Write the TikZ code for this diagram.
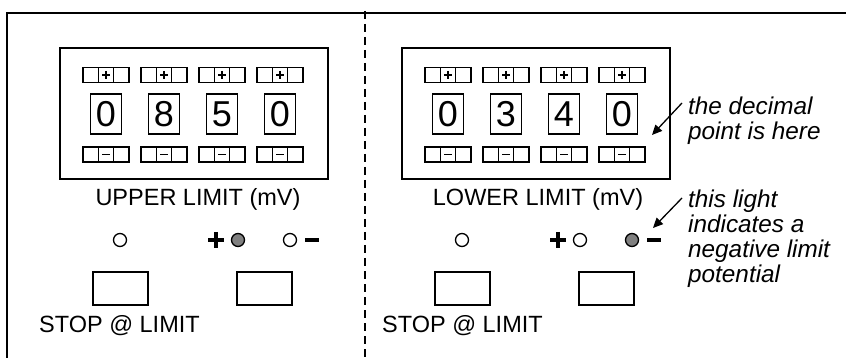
\documentclass[tikz,border=0pt]{standalone}
\usepackage{fontspec}
\setmainfont{Liberation Sans}
\usetikzlibrary{arrows.meta}
\begin{document}
\begin{tikzpicture}[x=1pt,y=-1pt,
  frame/.style={line width=2pt},
  divider/.style={line width=1.5pt,dash pattern=on 8pt off 5pt},
  panel/.style={draw,line width=1.6pt,minimum width=268pt,minimum height=131pt,inner sep=0pt},
  digit/.style={draw,line width=1.5pt,minimum width=31pt,minimum height=40pt,inner sep=0pt,font=\fontsize{36}{36}\selectfont},
  cellline/.style={line width=1.4pt},
  signline/.style={line width=1.7pt},
  lab/.style={inner sep=0pt,font=\fontsize{23.5}{25}\selectfont},
  note/.style={inner sep=0pt,align=left,font=\fontsize{24.3}{25}\selectfont\itshape},
  light/.style={circle,draw,line width=1.3pt,minimum size=13pt,inner sep=0pt},
  onlight/.style={light,fill=black!50},
  btn/.style={draw,line width=1.6pt,minimum width=55pt,minimum height=33pt,inner sep=0pt},
  bigsign/.style={line width=3.8pt},
  ptr/.style={line width=1.3pt,-{Triangle[length=10pt,width=9pt]}},
  plusgroup/.pic={
    \draw[cellline] (-23,-7.5) rectangle (23,7.5);
    \draw[cellline] (-7.7,-7.5) -- (-7.7,7.5) (7.7,-7.5) -- (7.7,7.5);
    \draw[signline] (-4,0) -- (4,0) (0,-4) -- (0,4);
  },
  minusgroup/.pic={
    \draw[cellline] (-23,-7.5) rectangle (23,7.5);
    \draw[cellline] (-7.7,-7.5) -- (-7.7,7.5) (7.7,-7.5) -- (7.7,7.5);
    \draw[signline] (-4,0) -- (4,0);
  }
]
\useasboundingbox (0,0) rectangle (846,358);

% outer frame and divider
\coordinate (fbl) at (6.5,358);
\coordinate (ftl) at (6.5,13);
\coordinate (ftr) at (846,13);
\draw[frame] (fbl) -- (ftl) -- (ftr);
\coordinate (dtop) at (365,11);
\coordinate (dbot) at (365,358);
\draw[divider] (dtop) -- (dbot);

% ---------- left panel ----------
\node[panel] (P1) at (194,113.5) {};
\foreach \x/\d [count=\i] in {106/0,164/8,222/5,280/0}{
  \pic (Lp\i) at (\x,75) {plusgroup};
  \node[digit] (Ld\i) at (\x,114) {\d};
  \pic (Lm\i) at (\x,154.5) {minusgroup};
}
\node[lab,anchor=base] (UL) at (198,206) {UPPER LIMIT (mV)};
\node[light] (Ll1) at (120,240) {};
\draw[bigsign] (208,240) -- (224,240) (216,232) -- (216,248);
\node[onlight] (Ll2) at (238,240) {};
\node[light] (Ll3) at (290,240) {};
\draw[bigsign] (305,240) -- (319,240);
\node[btn] (Lb1) at (120.5,288.5) {};
\node[btn] (Lb2) at (264.5,288.5) {};
\node[lab,anchor=base west] (LS) at (39,332) {STOP @ LIMIT};

% ---------- right panel ----------
\node[panel] (P2) at (536,113.5) {};
\foreach \x/\d [count=\i] in {448/0,506/3,564/4,622/0}{
  \pic (Rp\i) at (\x,75) {plusgroup};
  \node[digit] (Rd\i) at (\x,114) {\d};
  \pic (Rm\i) at (\x,154.5) {minusgroup};
}
\node[lab,anchor=base] (LL) at (538,206) {LOWER LIMIT (mV)};
\node[light] (Rl1) at (462,240) {};
\draw[bigsign] (550,240) -- (566,240) (558,232) -- (558,248);
\node[light] (Rl2) at (580,240) {};
\node[onlight] (Rl3) at (632,240) {};
\draw[bigsign] (647,240) -- (661,240);
\node[btn] (Rb1) at (462.5,288.5) {};
\node[btn] (Rb2) at (606.5,288.5) {};
\node[lab,anchor=base west] (RS) at (382,332) {STOP @ LIMIT};

% ---------- annotations ----------
\node[note,anchor=north west] (N1) at (688,97) {the decimal\\point is here};
\coordinate (N1s) at (682,103);
\coordinate (N1t) at (652,135);
\draw[ptr] (N1s) -- (N1t);
\node[note,anchor=north west] (N2) at (688,190) {this light\\indicates a\\negative limit\\potential};
\coordinate (N2s) at (682,198);
\coordinate (N2t) at (653,228);
\draw[ptr] (N2s) -- (N2t);
\end{tikzpicture}
\end{document}
